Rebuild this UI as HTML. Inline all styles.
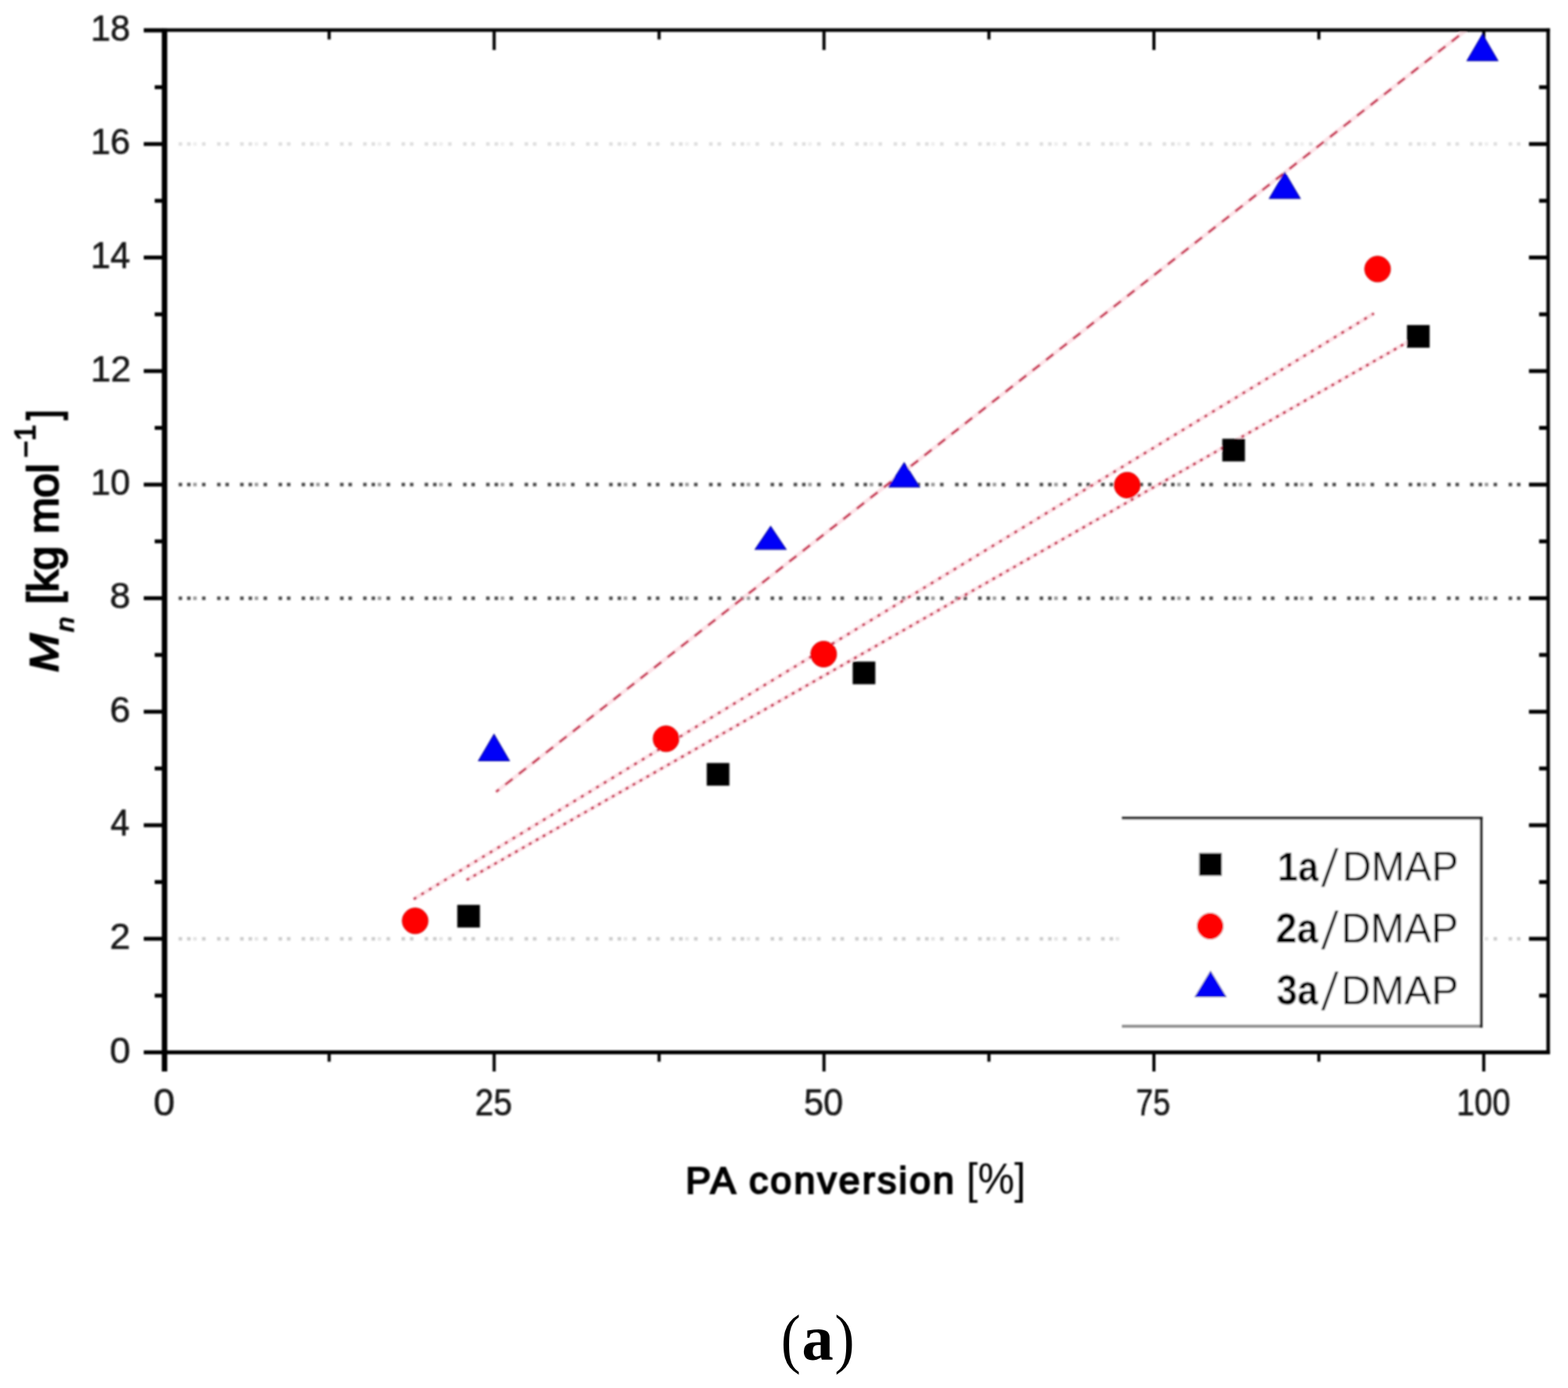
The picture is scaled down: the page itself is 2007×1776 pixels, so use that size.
<!DOCTYPE html><html><head><meta charset="utf-8"><title>Mn vs PA conversion</title><style>html,body{margin:0;padding:0;background:#fff;}svg{display:block;}</style></head><body>
<svg width="2007" height="1776" viewBox="0 0 2007 1776">
<rect width="2007" height="1776" fill="#fff"/>
<defs><filter id="soft" filterUnits="userSpaceOnUse" x="0" y="0" width="2007" height="1776"><feGaussianBlur stdDeviation="0.8"/></filter></defs>
<g filter="url(#soft)">
<line x1="228.65" y1="184.3" x2="1949" y2="184.3" stroke="#dedede" stroke-width="4.5" stroke-dasharray="4.5 6.3 4.5 14.65 4.5 14.75 4.5 6.2 4.5 14.32"/>
<line x1="247.30" y1="184.3" x2="1949" y2="184.3" stroke="#eeeeee" stroke-width="4.5" stroke-dasharray="4.5 74.22"/>
<line x1="228.65" y1="620.1" x2="1949" y2="620.1" stroke="#4a4a4a" stroke-width="4.5" stroke-dasharray="4.5 6.3 4.5 14.65 4.5 14.75 4.5 6.2 4.5 14.32"/>
<line x1="247.30" y1="620.1" x2="1949" y2="620.1" stroke="#9a9a9a" stroke-width="4.5" stroke-dasharray="4.5 74.22"/>
<line x1="228.65" y1="765.4" x2="1949" y2="765.4" stroke="#4a4a4a" stroke-width="4.5" stroke-dasharray="4.5 6.3 4.5 14.65 4.5 14.75 4.5 6.2 4.5 14.32"/>
<line x1="247.30" y1="765.4" x2="1949" y2="765.4" stroke="#9a9a9a" stroke-width="4.5" stroke-dasharray="4.5 74.22"/>
<line x1="228.65" y1="1201.2" x2="1949" y2="1201.2" stroke="#cccccc" stroke-width="4.5" stroke-dasharray="4.5 6.3 4.5 14.65 4.5 14.75 4.5 6.2 4.5 14.32"/>
<line x1="247.30" y1="1201.2" x2="1949" y2="1201.2" stroke="#e4e4e4" stroke-width="4.5" stroke-dasharray="4.5 74.22"/>
<rect x="1436" y="1046" width="460" height="267" fill="#fff"/>
<line x1="1436" y1="1046.7" x2="1897.5" y2="1046.7" stroke="#2a2a2a" stroke-width="3.5"/>
<line x1="1436" y1="1313" x2="1897.5" y2="1313" stroke="#909090" stroke-width="4"/>
<line x1="1895.8" y1="1045" x2="1895.8" y2="1315" stroke="#222" stroke-width="3.6"/>
<line x1="597.2" y1="1126" x2="1815" y2="430.1" stroke="#fbcdd5" stroke-width="5" opacity="0.55"/>
<line x1="529.5" y1="1150.5" x2="1758.6" y2="401" stroke="#fbcdd5" stroke-width="5" opacity="0.55"/>
<line x1="635" y1="1013.2" x2="1876.6" y2="38.5" stroke="#fbcdd5" stroke-width="5" opacity="0.55"/>
<line x1="597.2" y1="1126" x2="1815" y2="430.1" stroke="#c42a4c" stroke-width="3" stroke-dasharray="4 6.2"/>
<line x1="529.5" y1="1150.5" x2="1758.6" y2="401" stroke="#c42a4c" stroke-width="3" stroke-dasharray="4 7.4"/>
<line x1="635" y1="1013.2" x2="1876.6" y2="38.5" stroke="#c42a4c" stroke-width="2.8" stroke-dasharray="12 10" stroke-dashoffset="7.1"/>
<line x1="210.6" y1="36.5" x2="210.6" y2="1371" stroke="#000" stroke-width="7"/>
<line x1="184" y1="1346.5" x2="1984" y2="1346.5" stroke="#000" stroke-width="5"/>
<line x1="184" y1="38.5" x2="1984" y2="38.5" stroke="#000" stroke-width="4.5"/>
<line x1="1981.6" y1="36.5" x2="1981.6" y2="1349" stroke="#000" stroke-width="4.5"/>
<line x1="184" y1="1346.5" x2="210" y2="1346.5" stroke="#000" stroke-width="5"/>
<line x1="198" y1="1273.9" x2="210" y2="1273.9" stroke="#000" stroke-width="5"/>
<line x1="1970" y1="1273.9" x2="1981" y2="1273.9" stroke="#000" stroke-width="5"/>
<line x1="184" y1="1201.2" x2="210" y2="1201.2" stroke="#000" stroke-width="5"/>
<line x1="1957" y1="1201.2" x2="1981" y2="1201.2" stroke="#000" stroke-width="5"/>
<line x1="198" y1="1128.6" x2="210" y2="1128.6" stroke="#000" stroke-width="5"/>
<line x1="1970" y1="1128.6" x2="1981" y2="1128.6" stroke="#000" stroke-width="5"/>
<line x1="184" y1="1055.9" x2="210" y2="1055.9" stroke="#000" stroke-width="5"/>
<line x1="1957" y1="1055.9" x2="1981" y2="1055.9" stroke="#000" stroke-width="5"/>
<line x1="198" y1="983.3" x2="210" y2="983.3" stroke="#000" stroke-width="5"/>
<line x1="1970" y1="983.3" x2="1981" y2="983.3" stroke="#000" stroke-width="5"/>
<line x1="184" y1="910.7" x2="210" y2="910.7" stroke="#000" stroke-width="5"/>
<line x1="1957" y1="910.7" x2="1981" y2="910.7" stroke="#000" stroke-width="5"/>
<line x1="198" y1="838.0" x2="210" y2="838.0" stroke="#000" stroke-width="5"/>
<line x1="1970" y1="838.0" x2="1981" y2="838.0" stroke="#000" stroke-width="5"/>
<line x1="184" y1="765.4" x2="210" y2="765.4" stroke="#000" stroke-width="5"/>
<line x1="1957" y1="765.4" x2="1981" y2="765.4" stroke="#000" stroke-width="5"/>
<line x1="198" y1="692.7" x2="210" y2="692.7" stroke="#000" stroke-width="5"/>
<line x1="1970" y1="692.7" x2="1981" y2="692.7" stroke="#000" stroke-width="5"/>
<line x1="184" y1="620.1" x2="210" y2="620.1" stroke="#000" stroke-width="5"/>
<line x1="1957" y1="620.1" x2="1981" y2="620.1" stroke="#000" stroke-width="5"/>
<line x1="198" y1="547.5" x2="210" y2="547.5" stroke="#000" stroke-width="5"/>
<line x1="1970" y1="547.5" x2="1981" y2="547.5" stroke="#000" stroke-width="5"/>
<line x1="184" y1="474.8" x2="210" y2="474.8" stroke="#000" stroke-width="5"/>
<line x1="1957" y1="474.8" x2="1981" y2="474.8" stroke="#000" stroke-width="5"/>
<line x1="198" y1="402.2" x2="210" y2="402.2" stroke="#000" stroke-width="5"/>
<line x1="1970" y1="402.2" x2="1981" y2="402.2" stroke="#000" stroke-width="5"/>
<line x1="184" y1="329.5" x2="210" y2="329.5" stroke="#000" stroke-width="5"/>
<line x1="1957" y1="329.5" x2="1981" y2="329.5" stroke="#000" stroke-width="5"/>
<line x1="198" y1="256.9" x2="210" y2="256.9" stroke="#000" stroke-width="5"/>
<line x1="1970" y1="256.9" x2="1981" y2="256.9" stroke="#000" stroke-width="5"/>
<line x1="184" y1="184.3" x2="210" y2="184.3" stroke="#000" stroke-width="5"/>
<line x1="1957" y1="184.3" x2="1981" y2="184.3" stroke="#000" stroke-width="5"/>
<line x1="198" y1="111.6" x2="210" y2="111.6" stroke="#000" stroke-width="5"/>
<line x1="1970" y1="111.6" x2="1981" y2="111.6" stroke="#000" stroke-width="5"/>
<line x1="184" y1="39.0" x2="210" y2="39.0" stroke="#000" stroke-width="5"/>
<line x1="210.2" y1="1346" x2="210.2" y2="1371" stroke="#000" stroke-width="4"/>
<line x1="210.2" y1="38" x2="210.2" y2="64" stroke="#000" stroke-width="4"/>
<line x1="421.3" y1="1346" x2="421.3" y2="1358.5" stroke="#000" stroke-width="4"/>
<line x1="421.3" y1="38" x2="421.3" y2="50.5" stroke="#000" stroke-width="4"/>
<line x1="632.5" y1="1346" x2="632.5" y2="1371" stroke="#000" stroke-width="4"/>
<line x1="632.5" y1="38" x2="632.5" y2="64" stroke="#000" stroke-width="4"/>
<line x1="843.6" y1="1346" x2="843.6" y2="1358.5" stroke="#000" stroke-width="4"/>
<line x1="843.6" y1="38" x2="843.6" y2="50.5" stroke="#000" stroke-width="4"/>
<line x1="1054.7" y1="1346" x2="1054.7" y2="1371" stroke="#000" stroke-width="4"/>
<line x1="1054.7" y1="38" x2="1054.7" y2="64" stroke="#000" stroke-width="4"/>
<line x1="1265.8" y1="1346" x2="1265.8" y2="1358.5" stroke="#000" stroke-width="4"/>
<line x1="1265.8" y1="38" x2="1265.8" y2="50.5" stroke="#000" stroke-width="4"/>
<line x1="1477.0" y1="1346" x2="1477.0" y2="1371" stroke="#000" stroke-width="4"/>
<line x1="1477.0" y1="38" x2="1477.0" y2="64" stroke="#000" stroke-width="4"/>
<line x1="1688.1" y1="1346" x2="1688.1" y2="1358.5" stroke="#000" stroke-width="4"/>
<line x1="1688.1" y1="38" x2="1688.1" y2="50.5" stroke="#000" stroke-width="4"/>
<line x1="1899.2" y1="1346" x2="1899.2" y2="1371" stroke="#000" stroke-width="4"/>
<line x1="1899.2" y1="38" x2="1899.2" y2="64" stroke="#000" stroke-width="4"/>
<rect x="585.3" y="1157.8" width="29" height="29" fill="#000"/>
<rect x="904.6" y="976.3" width="29" height="29" fill="#000"/>
<rect x="1091.4" y="846.5" width="29" height="29" fill="#000"/>
<rect x="1564.5" y="561.4" width="29" height="29" fill="#000"/>
<rect x="1800.9" y="415.9" width="29" height="29" fill="#000"/>
<rect x="1534.8" y="1091.5" width="29" height="29" fill="#000"/>
<circle cx="531.4" cy="1178.3" r="16.5" fill="#f00" stroke="#d00000" stroke-width="1"/>
<circle cx="852.5" cy="945.3" r="16.5" fill="#f00" stroke="#d00000" stroke-width="1"/>
<circle cx="1054.3" cy="837.0" r="16.5" fill="#f00" stroke="#d00000" stroke-width="1"/>
<circle cx="1442.8" cy="620.8" r="16.5" fill="#f00" stroke="#d00000" stroke-width="1"/>
<circle cx="1763.3" cy="344.3" r="16.5" fill="#f00" stroke="#d00000" stroke-width="1"/>
<circle cx="1549.0" cy="1185.0" r="16.5" fill="#f00" stroke="#d00000" stroke-width="1"/>
<polygon points="632.3,939.6 652.0,973.4 612.5,973.4" fill="#0000f8" stroke="#0000a0" stroke-width="1.2" stroke-linejoin="miter"/>
<polygon points="986.4,673.6 1006.1,702.8 966.6,702.8" fill="#0000f8" stroke="#0000a0" stroke-width="1.2" stroke-linejoin="miter"/>
<polygon points="1157.3,592.0 1177.0,623.1 1137.5,623.1" fill="#0000f8" stroke="#0000a0" stroke-width="1.2" stroke-linejoin="miter"/>
<polygon points="1644.5,220.5 1664.2,253.9 1624.8,253.9" fill="#0000f8" stroke="#0000a0" stroke-width="1.2" stroke-linejoin="miter"/>
<polygon points="1897.5,43.9 1917.2,77.7 1877.8,77.7" fill="#0000f8" stroke="#0000a0" stroke-width="1.2" stroke-linejoin="miter"/>
<polygon points="1549.5,1243.0 1569.2,1275.4 1529.8,1275.4" fill="#0000f8" stroke="#0000a0" stroke-width="1.2" stroke-linejoin="miter"/>
<text transform="matrix(0.9500,0,0,0.9250,140.60,1359.50)" font-family="'Liberation Sans', Arial, sans-serif" font-weight="normal" font-style="normal" font-size="50" fill="#141414" stroke="#141414" stroke-width="0.6">0</text>
<text transform="matrix(0.9500,0,0,0.9250,140.60,1214.22)" font-family="'Liberation Sans', Arial, sans-serif" font-weight="normal" font-style="normal" font-size="50" fill="#141414" stroke="#141414" stroke-width="0.6">2</text>
<text transform="matrix(0.8769,0,0,0.9514,141.62,1068.94)" font-family="'Liberation Sans', Arial, sans-serif" font-weight="normal" font-style="normal" font-size="50" fill="#141414" stroke="#141414" stroke-width="0.6">4</text>
<text transform="matrix(0.9500,0,0,0.9250,140.60,923.66)" font-family="'Liberation Sans', Arial, sans-serif" font-weight="normal" font-style="normal" font-size="50" fill="#141414" stroke="#141414" stroke-width="0.6">6</text>
<text transform="matrix(0.9500,0,0,0.9250,140.60,778.38)" font-family="'Liberation Sans', Arial, sans-serif" font-weight="normal" font-style="normal" font-size="50" fill="#141414" stroke="#141414" stroke-width="0.6">8</text>
<text transform="matrix(0.9137,0,0,0.9250,115.96,633.10)" font-family="'Liberation Sans', Arial, sans-serif" font-weight="normal" font-style="normal" font-size="50" fill="#141414" stroke="#141414" stroke-width="0.6">10</text>
<text transform="matrix(0.9320,0,0,0.9250,115.90,487.82)" font-family="'Liberation Sans', Arial, sans-serif" font-weight="normal" font-style="normal" font-size="50" fill="#141414" stroke="#141414" stroke-width="0.6">12</text>
<text transform="matrix(0.9137,0,0,0.9514,115.96,342.54)" font-family="'Liberation Sans', Arial, sans-serif" font-weight="normal" font-style="normal" font-size="50" fill="#141414" stroke="#141414" stroke-width="0.6">14</text>
<text transform="matrix(0.9137,0,0,0.9250,115.96,197.26)" font-family="'Liberation Sans', Arial, sans-serif" font-weight="normal" font-style="normal" font-size="50" fill="#141414" stroke="#141414" stroke-width="0.6">16</text>
<text transform="matrix(0.9137,0,0,0.9250,115.96,51.98)" font-family="'Liberation Sans', Arial, sans-serif" font-weight="normal" font-style="normal" font-size="50" fill="#141414" stroke="#141414" stroke-width="0.6">18</text>
<text transform="matrix(0.9833,0,0,0.9528,196.43,1427.30)" font-family="'Liberation Sans', Arial, sans-serif" font-weight="normal" font-style="normal" font-size="50" fill="#141414" stroke="#141414" stroke-width="0.6">0</text>
<text transform="matrix(0.8577,0,0,0.9528,607.98,1427.30)" font-family="'Liberation Sans', Arial, sans-serif" font-weight="normal" font-style="normal" font-size="50" fill="#141414" stroke="#141414" stroke-width="0.6">25</text>
<text transform="matrix(0.9038,0,0,0.9528,1028.99,1427.30)" font-family="'Liberation Sans', Arial, sans-serif" font-weight="normal" font-style="normal" font-size="50" fill="#141414" stroke="#141414" stroke-width="0.6">50</text>
<text transform="matrix(0.7904,0,0,0.9800,1453.92,1427.30)" font-family="'Liberation Sans', Arial, sans-serif" font-weight="normal" font-style="normal" font-size="50" fill="#141414" stroke="#141414" stroke-width="0.6">75</text>
<text transform="matrix(0.8241,0,0,0.9528,1864.43,1427.30)" font-family="'Liberation Sans', Arial, sans-serif" font-weight="normal" font-style="normal" font-size="50" fill="#141414" stroke="#141414" stroke-width="0.6">100</text>
<text transform="matrix(0.9772,0,0,0.9658,877.47,1526.73)" font-family="'Liberation Sans', Arial, sans-serif" font-weight="normal" font-style="normal" font-size="50" letter-spacing="3" fill="#000" stroke="#000" stroke-width="2.2">PA conversion</text>
<text transform="matrix(1.0492,0,0,1.0957,1237.10,1527.44)" font-family="'Liberation Sans', Arial, sans-serif" font-weight="normal" font-style="normal" font-size="50" fill="#000">[%]</text>
<text transform="matrix(0,-1.1791,1.0108,0,73.79,860.10)" font-family="'Liberation Sans', Arial, sans-serif" font-weight="normal" font-style="italic" font-size="50" fill="#000" stroke="#000" stroke-width="2.3">M</text>
<text transform="matrix(0,-0.6926,0.6448,0,93.96,808.40)" font-family="'Liberation Sans', Arial, sans-serif" font-weight="normal" font-style="italic" font-size="50" fill="#000" stroke="#000" stroke-width="2.3">n</text>
<text transform="matrix(0,-1.1160,1.1229,0,73.85,773.05)" font-family="'Liberation Sans', Arial, sans-serif" font-weight="normal" font-style="normal" font-size="50" fill="#000" stroke="#000" stroke-width="2.1">[kg mol</text>
<text transform="matrix(0,-0.7426,0.7216,0,44.58,585.79)" font-family="'Liberation Sans', Arial, sans-serif" font-weight="normal" font-style="normal" font-size="50" fill="#000" stroke="#000" stroke-width="2.1">−1</text>
<text transform="matrix(0,-0.9333,1.1125,0,73.66,537.37)" font-family="'Liberation Sans', Arial, sans-serif" font-weight="normal" font-style="normal" font-size="50" fill="#000" stroke="#000" stroke-width="2.1">]</text>
<text transform="matrix(0.9415,0,0,1.0543,1635.28,1126.60)" font-family="'Liberation Sans', Arial, sans-serif" font-weight="bold" font-style="normal" font-size="50" fill="#000">1a</text>
<text transform="matrix(1.0500,0,-0.2028,1.3500,1691.30,1134.40)" font-family="'Liberation Sans', Arial, sans-serif" font-weight="normal" font-style="normal" font-size="50" fill="#000">/</text>
<text transform="matrix(1.0283,0,0,1.0543,1718.19,1127.30)" font-family="'Liberation Sans', Arial, sans-serif" font-weight="normal" font-style="normal" font-size="50" fill="#000">DMAP</text>
<text transform="matrix(0.9722,0,0,1.0543,1632.96,1206.00)" font-family="'Liberation Sans', Arial, sans-serif" font-weight="bold" font-style="normal" font-size="50" fill="#000">2a</text>
<text transform="matrix(1.0500,0,-0.2028,1.3500,1691.30,1213.80)" font-family="'Liberation Sans', Arial, sans-serif" font-weight="normal" font-style="normal" font-size="50" fill="#000">/</text>
<text transform="matrix(1.0377,0,0,1.0571,1716.85,1206.00)" font-family="'Liberation Sans', Arial, sans-serif" font-weight="normal" font-style="normal" font-size="50" fill="#000">DMAP</text>
<text transform="matrix(0.9545,0,0,1.0543,1633.95,1285.00)" font-family="'Liberation Sans', Arial, sans-serif" font-weight="bold" font-style="normal" font-size="50" fill="#000">3a</text>
<text transform="matrix(1.0500,0,-0.2028,1.3556,1691.30,1292.30)" font-family="'Liberation Sans', Arial, sans-serif" font-weight="normal" font-style="normal" font-size="50" fill="#000">/</text>
<text transform="matrix(1.0377,0,0,1.0543,1716.85,1285.00)" font-family="'Liberation Sans', Arial, sans-serif" font-weight="normal" font-style="normal" font-size="50" fill="#000">DMAP</text>
</g>
<text transform="matrix(0.8864,0,0,0.9910,999.45,1741.16)" font-family="'Liberation Serif', 'Times New Roman', serif" font-weight="normal" font-style="normal" font-size="86" fill="#000">(</text>
<text transform="matrix(0.9436,0,0,0.9634,1026.17,1740.00)" font-family="'Liberation Serif', 'Times New Roman', serif" font-weight="bold" font-style="normal" font-size="86" fill="#000">a</text>
<text transform="matrix(0.8909,0,0,0.9910,1068.33,1741.16)" font-family="'Liberation Serif', 'Times New Roman', serif" font-weight="normal" font-style="normal" font-size="86" fill="#000">)</text>
</svg></body></html>
